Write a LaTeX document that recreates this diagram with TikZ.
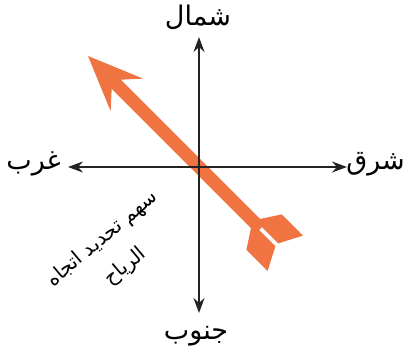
\documentclass[tikz,border=0pt]{standalone}
\usepackage{fontspec}
\newfontfamily\arabicfont[Script=Arabic]{DejaVu Sans}
\TeXXeTstate=1
\usetikzlibrary{arrows.meta}
\definecolor{windorange}{RGB}{240,116,65}
\definecolor{axisgray}{RGB}{35,35,35}

\begin{document}
\begin{tikzpicture}[x=1pt, y=-1pt,
  axis/.style={axisgray, line width=1.5pt, {Stealth[length=15pt,width=11pt]}-{Stealth[length=15pt,width=11pt]}},
  dirlabel/.style={font=\arabicfont\fontsize{27}{30}\selectfont, inner sep=0pt},
  windnote/.style={font=\arabicfont\fontsize{20}{36}\selectfont, align=center, inner sep=0pt, rotate=40},
  windfill/.style={fill=windorange, draw=none}
]
\useasboundingbox (0,0) rectangle (406,357);

% wind arrow, tip at top left
\begin{scope}[shift={(88,56)}, rotate=-45]
  \fill[windfill] (0,0) -- (55,23) -- (40,6.5) -- (244,6.5) -- (244,-6.5) -- (40,-6.5) -- (55,-23) -- cycle;
  \fill[windfill] (234,2) -- (249,25) -- (279,25) -- (267,2) -- cycle;
  \fill[windfill] (234,-2) -- (249,-25) -- (279,-25) -- (267,-2) -- cycle;
\end{scope}

% axes
\coordinate (O) at (199,167);
\coordinate (ntip) at (199,37);
\coordinate (stip) at (199,313);
\coordinate (wtip) at (68,167);
\coordinate (etip) at (347,167);
\draw[axis] (stip) -- (ntip);
\draw[axis] (wtip) -- (etip);

\node[dirlabel] (north) at (198,17) {\beginR شمال\endR};
\node[dirlabel] (south) at (196,336) {\beginR جنوب\endR};
\node[dirlabel, anchor=east] (west) at (61,164) {\beginR غرب\endR};
\node[dirlabel, anchor=east] (east) at (405,164) {\beginR شرق\endR};

\node[windnote] (windtext) at (114,253) {\beginR سهم تحديد اتجاه\endR\\ \beginR الرياح\endR};
\end{tikzpicture}
\end{document}
